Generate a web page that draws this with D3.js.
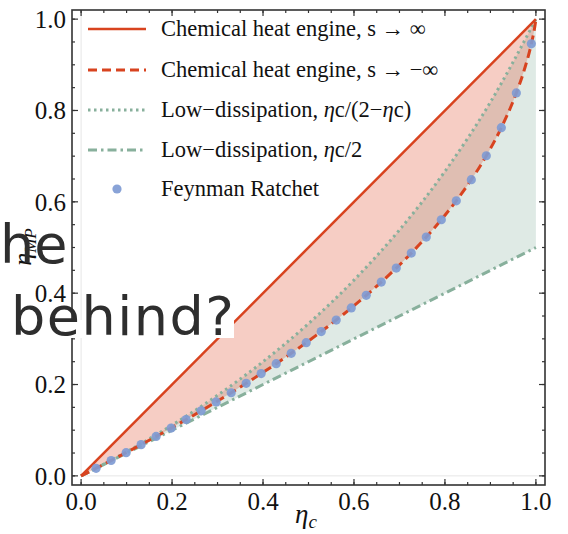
<!DOCTYPE html>
<html>
<head>
<meta charset="utf-8">
<script src="https://cdn.jsdelivr.net/npm/d3@7"></script>
<style>
  body { margin: 0; background: #fff; }
  svg { display: block; }
</style>
</head>
<body>
<div id="chart"></div>
<script>
// Feynman ratchet points (eta_c, eta at max power)
var ratchetC = [0.033, 0.066, 0.099, 0.132, 0.165, 0.198, 0.231, 0.264, 0.297, 0.33,
                0.363, 0.396, 0.429, 0.462, 0.495, 0.528, 0.561, 0.594, 0.627, 0.66,
                0.693, 0.726, 0.759, 0.792, 0.825, 0.858, 0.891, 0.924, 0.957, 0.99];
var ratchetEta = [0.0166, 0.0336, 0.0508, 0.0684, 0.0863, 0.1046, 0.1232, 0.1424, 0.1619, 0.1820,
                  0.2026, 0.2239, 0.2457, 0.2683, 0.2917, 0.3160, 0.3412, 0.3676, 0.3952, 0.4242,
                  0.4550, 0.4877, 0.5228, 0.5608, 0.6023, 0.6485, 0.7009, 0.7624, 0.8385, 0.9460];

// chemical heat engine s -> -inf (dashed)
var dashC = [0, 0.033, 0.066, 0.099, 0.132, 0.165, 0.198, 0.231, 0.264, 0.297, 0.33,
             0.363, 0.396, 0.429, 0.462, 0.495, 0.528, 0.561, 0.594, 0.627, 0.66,
             0.693, 0.726, 0.759, 0.792, 0.825, 0.858, 0.891, 0.924, 0.957, 0.975, 0.99, 0.997, 1];
var dashEta = [0, 0.0166, 0.0336, 0.0508, 0.0684, 0.0863, 0.1046, 0.1232, 0.1424, 0.1619, 0.1820,
               0.2026, 0.2239, 0.2457, 0.2683, 0.2917, 0.3160, 0.3412, 0.3676, 0.3952, 0.4242,
               0.4550, 0.4877, 0.5228, 0.5608, 0.6023, 0.6485, 0.7009, 0.7624, 0.8385, 0.8908, 0.9460, 0.9799, 1];

// chemical heat engine s -> inf (solid)
var solidC = [0, 1];
var solidEta = [0, 1];

// low-dissipation bounds
var lowC = [0, 0.1, 0.2, 0.3, 0.4, 0.5, 0.6, 0.7, 0.8, 0.9, 1];
var lowUpper = [0, 0.0526, 0.1111, 0.1765, 0.25, 0.3333, 0.4286, 0.5385, 0.6667, 0.8182, 1];
var lowLower = [0, 0.05, 0.1, 0.15, 0.2, 0.25, 0.3, 0.35, 0.4, 0.45, 0.5];

var majorTicks = [0, 0.2, 0.4, 0.6, 0.8, 1.0];
var minorTicks = d3.range(0, 1.0001, 0.05);

var red = "#d8431f";
var green = "#88b09c";
var blue = "#7f9bd4";

var width = 568, height = 534;
var frame = {left: 72, right: 545, top: 10, bottom: 485};

var svg = d3.select("#chart").append("svg")
    .attr("width", width)
    .attr("height", height);

var x = d3.scaleLinear().domain([-0.02, 1.02]).range([frame.left, frame.right]);
var y = d3.scaleLinear().domain([-0.02, 1.02]).range([frame.bottom, frame.top]);

// faint zero axes
svg.append("line").attr("x1", x(0)).attr("x2", frame.right).attr("y1", y(0)).attr("y2", y(0))
    .style("stroke", "#e6e6e6").style("stroke-width", 1);
svg.append("line").attr("x1", x(0)).attr("x2", x(0)).attr("y1", frame.top).attr("y2", y(0))
    .style("stroke", "#e6e6e6").style("stroke-width", 1);

// fills
var lowData = lowC.map(function(c, i) { return {c: c, lo: lowLower[i], hi: lowUpper[i]}; });
var dashData = dashC.map(function(c, i) { return {c: c, v: dashEta[i]}; });

var greenArea = d3.area()
    .x(function(d) { return x(d.c); })
    .y0(function(d) { return y(d.lo); })
    .y1(function(d) { return y(d.hi); })
    .curve(d3.curveMonotoneX);
svg.append("path").datum(lowData).attr("d", greenArea)
    .style("fill", "rgb(110,160,135)").style("fill-opacity", 0.22);

var redArea = d3.area()
    .x(function(d) { return x(d.c); })
    .y0(function(d) { return y(d.v); })
    .y1(function(d) { return y(d.c); })
    .curve(d3.curveMonotoneX);
svg.append("path").datum(dashData).attr("d", redArea)
    .style("fill", "rgb(226,90,60)").style("fill-opacity", 0.3);

// lines
var line = d3.line()
    .x(function(d) { return x(d[0]); })
    .y(function(d) { return y(d[1]); })
    .curve(d3.curveMonotoneX);

svg.append("path").datum(lowC.map(function(c, i) { return [c, lowLower[i]]; }))
    .attr("d", line).style("fill", "none").style("stroke", green)
    .style("stroke-width", 3).style("stroke-dasharray", "9,4,2.5,4");
svg.append("path").datum(lowC.map(function(c, i) { return [c, lowUpper[i]]; }))
    .attr("d", line).style("fill", "none").style("stroke", green)
    .style("stroke-width", 3).style("stroke-dasharray", "2.5,3.5");
svg.append("path").datum(solidC.map(function(c, i) { return [c, solidEta[i]]; }))
    .attr("d", line).style("fill", "none").style("stroke", red).style("stroke-width", 2.5);
svg.append("path").datum(dashC.map(function(c, i) { return [c, dashEta[i]]; }))
    .attr("d", line).style("fill", "none").style("stroke", red)
    .style("stroke-width", 3).style("stroke-dasharray", "9,5");

svg.selectAll("circle.pt")
    .data(ratchetC)
    .enter()
    .append("circle")
    .attr("class", "pt")
    .attr("cx", function(d) { return x(d); })
    .attr("cy", function(d, i) { return y(ratchetEta[i]); })
    .attr("r", 4.6)
    .style("fill", blue).style("fill-opacity", 0.92);

// frame + ticks
svg.append("rect")
    .attr("x", frame.left).attr("y", frame.top)
    .attr("width", frame.right - frame.left).attr("height", frame.bottom - frame.top)
    .style("fill", "none").style("stroke", "#333").style("stroke-width", 1.6);

function ticks(vals, len) {
  vals.forEach(function(v) {
    svg.append("line").attr("x1", x(v)).attr("x2", x(v)).attr("y1", frame.bottom).attr("y2", frame.bottom - len);
    svg.append("line").attr("x1", x(v)).attr("x2", x(v)).attr("y1", frame.top).attr("y2", frame.top + len);
    svg.append("line").attr("y1", y(v)).attr("y2", y(v)).attr("x1", frame.left).attr("x2", frame.left + len);
    svg.append("line").attr("y1", y(v)).attr("y2", y(v)).attr("x1", frame.right).attr("x2", frame.right - len);
  });
}
ticks(minorTicks, 3);
ticks(majorTicks, 6);
svg.selectAll("line").filter(function() { return !this.style.stroke; })
    .style("stroke", "#333").style("stroke-width", 1.2);

var serif = "'Liberation Serif', 'Times New Roman', serif";

svg.selectAll("text.xt")
    .data(majorTicks).enter().append("text")
    .attr("class", "xt")
    .attr("x", function(d) { return x(d); })
    .attr("y", 510)
    .attr("text-anchor", "middle")
    .style("font-family", serif).style("font-size", "25px").style("fill", "#111")
    .text(function(d) { return d3.format(".1f")(d); });

svg.selectAll("text.yt")
    .data(majorTicks).enter().append("text")
    .attr("class", "yt")
    .attr("x", 66)
    .attr("y", function(d) { return y(d); })
    .attr("dy", "0.35em")
    .attr("text-anchor", "end")
    .style("font-family", serif).style("font-size", "25px").style("fill", "#111")
    .text(function(d) { return d3.format(".1f")(d); });

// axis labels
var xl = svg.append("text")
    .attr("x", 306).attr("y", 523)
    .attr("text-anchor", "middle")
    .style("font-family", serif).style("font-size", "27px").style("font-style", "italic").style("fill", "#111");
xl.append("tspan").text("η");
xl.append("tspan").attr("dy", 5).style("font-size", "19px").text("c");

var yl = svg.append("text")
    .attr("transform", "translate(31,247) rotate(-90)")
    .attr("text-anchor", "middle")
    .style("font-family", serif).style("font-size", "26px").style("font-style", "italic").style("fill", "#111");
yl.append("tspan").text("η");
yl.append("tspan").attr("dy", 5).style("font-size", "17px").text("MP");

// legend
var legendRows = [
  {y: 29, type: "solid"},
  {y: 70, type: "dash"},
  {y: 110, type: "dot"},
  {y: 150, type: "dotdash"},
  {y: 189, type: "point"}
];
var legendText = [
  [["Chemical heat engine, s → ∞", false]],
  [["Chemical heat engine, s → −∞", false]],
  [["Low−dissipation, ", false], ["η", true], ["c/(2−", false], ["η", true], ["c)", false]],
  [["Low−dissipation, ", false], ["η", true], ["c/2", false]],
  [["Feynman Ratchet", false]]
];

legendRows.forEach(function(r, i) {
  if (r.type === "point") {
    svg.append("circle").attr("cx", 117).attr("cy", r.y).attr("r", 4.6)
        .style("fill", blue).style("fill-opacity", 0.92);
  } else {
    var l = svg.append("line").attr("x1", 88).attr("x2", 146).attr("y1", r.y).attr("y2", r.y)
        .style("stroke-width", r.type === "solid" ? 2.5 : 3);
    if (r.type === "solid") l.style("stroke", red);
    if (r.type === "dash") l.style("stroke", red).style("stroke-dasharray", "9,5");
    if (r.type === "dot") l.style("stroke", green).style("stroke-dasharray", "2.5,3.5");
    if (r.type === "dotdash") l.style("stroke", green).style("stroke-dasharray", "9,4,2.5,4");
  }
  var t = svg.append("text").attr("x", 161).attr("y", r.y + 7)
      .style("font-family", serif).style("font-size", "22.5px").style("fill", "#111");
  legendText[i].forEach(function(p) {
    var s = t.append("tspan").text(p[0]);
    if (p[1]) s.style("font-style", "italic");
  });
});

// overlay text
var sans = "'DejaVu Sans', sans-serif";
svg.append("text").attr("x", 0).attr("y", 263)
    .style("font-family", sans).style("font-size", "54px").style("fill", "#2e2e2e")
    .text("he");
svg.append("rect").attr("x", 12).attr("y", 320).attr("width", 222).attr("height", 18)
    .style("fill", "#fff");
svg.append("text").attr("x", 11).attr("y", 335)
    .style("font-family", sans).style("font-size", "54px").style("fill", "#2e2e2e")
    .style("letter-spacing", "1.5px")
    .text("behind?");
</script>
</body>
</html>
